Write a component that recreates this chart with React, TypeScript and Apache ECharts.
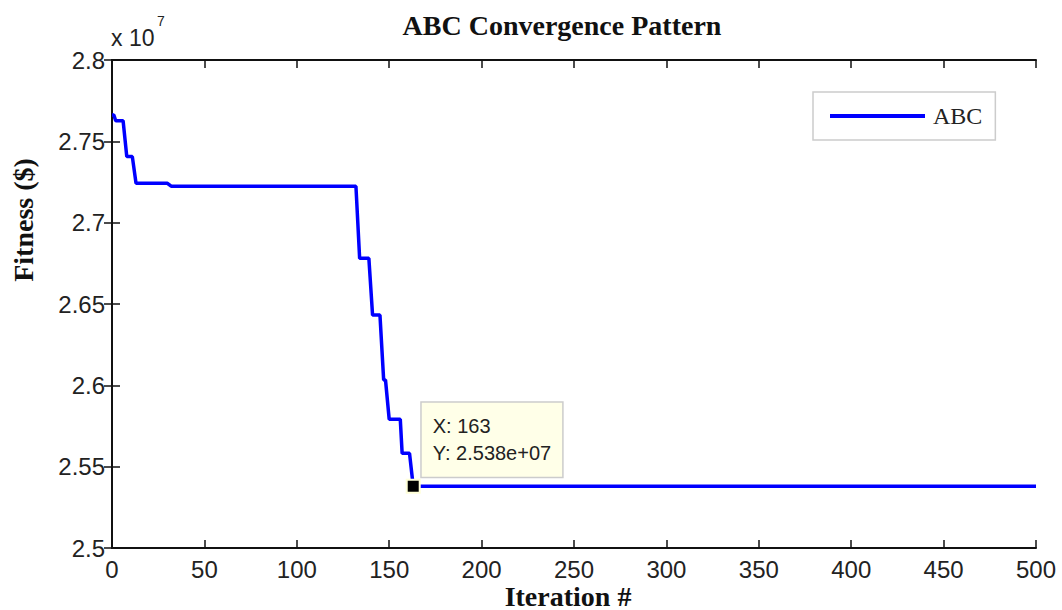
import React, { useEffect, useRef } from 'react';
import * as echarts from 'echarts';

// Iteration number at each change point of the ABC fitness curve
const iterations = [0, 1, 2, 6, 8, 11, 13, 30, 32, 132, 134, 139, 141, 145, 147, 148, 150, 156, 157, 161, 163, 500];
// Best fitness ($) at those iterations
const fitness = [
  27662000, 27662000, 27627000, 27627000, 27406000, 27406000, 27242000, 27242000,
  27224000, 27224000, 26781000, 26781000, 26432000, 26432000, 26033000, 26033000,
  25791000, 25791000, 25582000, 25582000, 25380000, 25380000,
];

const xMin = 0;
const xMax = 500;
const xInterval = 50;
const yMin = 25000000;
const yMax = 28000000;
const yInterval = 500000;

const tipIteration = 163;
const tipFitness = 25380000;

const seriesName = 'ABC';
const titleText = 'ABC Convergence Pattern';
const xName = 'Iteration #';
const yName = 'Fitness ($)';

export default function App() {
  const ref = useRef<HTMLDivElement>(null);

  useEffect(() => {
    if (!ref.current) return;
    const chart = echarts.init(ref.current, undefined, { renderer: 'svg' });
    const data = iterations.map((it, i) => [it, fitness[i]]);
    const sans = 'Liberation Sans, Arial, sans-serif';
    const serif = 'Liberation Serif, Times New Roman, serif';
    const tickLabel = { fontFamily: sans, fontSize: 24, color: '#222' };
    const axisLine = { show: true, lineStyle: { color: '#111', width: 2 } };
    const axisTick = { show: true, inside: true, length: 8, lineStyle: { color: '#111', width: 1.5 } };

    chart.setOption({
      animation: false,
      backgroundColor: '#ffffff',
      title: {
        text: titleText,
        left: 557,
        textAlign: 'center',
        top: 6,
        textStyle: { fontFamily: serif, fontWeight: 'bold', fontSize: 28, color: '#111' },
      },
      grid: { left: 112, right: 26, top: 60, bottom: 62, containLabel: false },
      legend: {
        data: [seriesName],
        left: 813,
        top: 92,
        icon: 'rect',
        itemWidth: 95,
        itemHeight: 4,
        padding: [12, 13, 12, 17],
        borderColor: '#cccccc',
        borderWidth: 1.5,
        backgroundColor: '#ffffff',
        textStyle: { fontFamily: serif, fontSize: 24, color: '#222', padding: [0, 0, 0, 3] },
      },
      xAxis: [
        {
          type: 'value',
          min: xMin,
          max: xMax,
          interval: xInterval,
          position: 'bottom',
          axisLine,
          axisTick,
          splitLine: { show: false },
          axisLabel: { ...tickLabel, margin: 9 },
        },
        {
          type: 'value',
          min: xMin,
          max: xMax,
          interval: xInterval,
          position: 'top',
          axisLine,
          axisTick,
          splitLine: { show: false },
          axisLabel: { show: false },
        },
      ],
      yAxis: [
        {
          type: 'value',
          min: yMin,
          max: yMax,
          interval: yInterval,
          position: 'left',
          axisLine,
          axisTick,
          splitLine: { show: false },
          axisLabel: { ...tickLabel, margin: 7, formatter: (v: number) => String(v / 1e7) },
        },
        {
          type: 'value',
          min: yMin,
          max: yMax,
          interval: yInterval,
          position: 'right',
          axisLine,
          axisTick,
          splitLine: { show: false },
          axisLabel: { show: false },
        },
      ],
      graphic: [
        {
          type: 'text',
          x: 111,
          y: 26,
          style: { text: 'x 10', fontFamily: sans, fontSize: 23, fill: '#222' },
        },
        {
          type: 'text',
          x: 157,
          y: 14,
          style: { text: '7', fontFamily: sans, fontSize: 14, fill: '#222' },
        },
        {
          type: 'text',
          x: 568,
          y: 596,
          style: {
            text: xName,
            fontFamily: serif,
            fontWeight: 'bold',
            fontSize: 28,
            fill: '#111',
            align: 'center',
            verticalAlign: 'middle',
          },
        },
        {
          type: 'text',
          x: 23,
          y: 220,
          rotation: Math.PI / 2,
          style: {
            text: yName,
            fontFamily: serif,
            fontWeight: 'bold',
            fontSize: 28,
            fill: '#111',
            align: 'center',
            verticalAlign: 'middle',
          },
        },
      ],
      series: [
        {
          name: seriesName,
          type: 'line',
          xAxisIndex: 0,
          yAxisIndex: 0,
          data,
          showSymbol: false,
          symbol: 'none',
          lineStyle: { color: '#0000ff', width: 3.5 },
          itemStyle: { color: '#0000ff' },
          markPoint: {
            symbol: 'rect',
            symbolSize: 13,
            itemStyle: { color: '#000000', borderColor: '#ffffd8', borderWidth: 2 },
            label: {
              show: true,
              position: [16, -76],
              align: 'left',
              verticalAlign: 'top',
              formatter: 'X: ' + tipIteration + '\nY: ' + (tipFitness / 1e7).toFixed(3) + 'e+07',
              fontFamily: sans,
              fontSize: 20,
              lineHeight: 27,
              color: '#222',
              backgroundColor: '#ffffe8',
              borderColor: '#cccccc',
              borderWidth: 1.5,
              padding: [10, 11, 10, 11],
            },
            data: [{ coord: [tipIteration, tipFitness] }],
          },
        },
      ],
    });

    return () => chart.dispose();
  }, []);

  return <div ref={ref} style={{ width: 1062, height: 610, position: 'absolute', left: 0, top: 0 }} />;
}
